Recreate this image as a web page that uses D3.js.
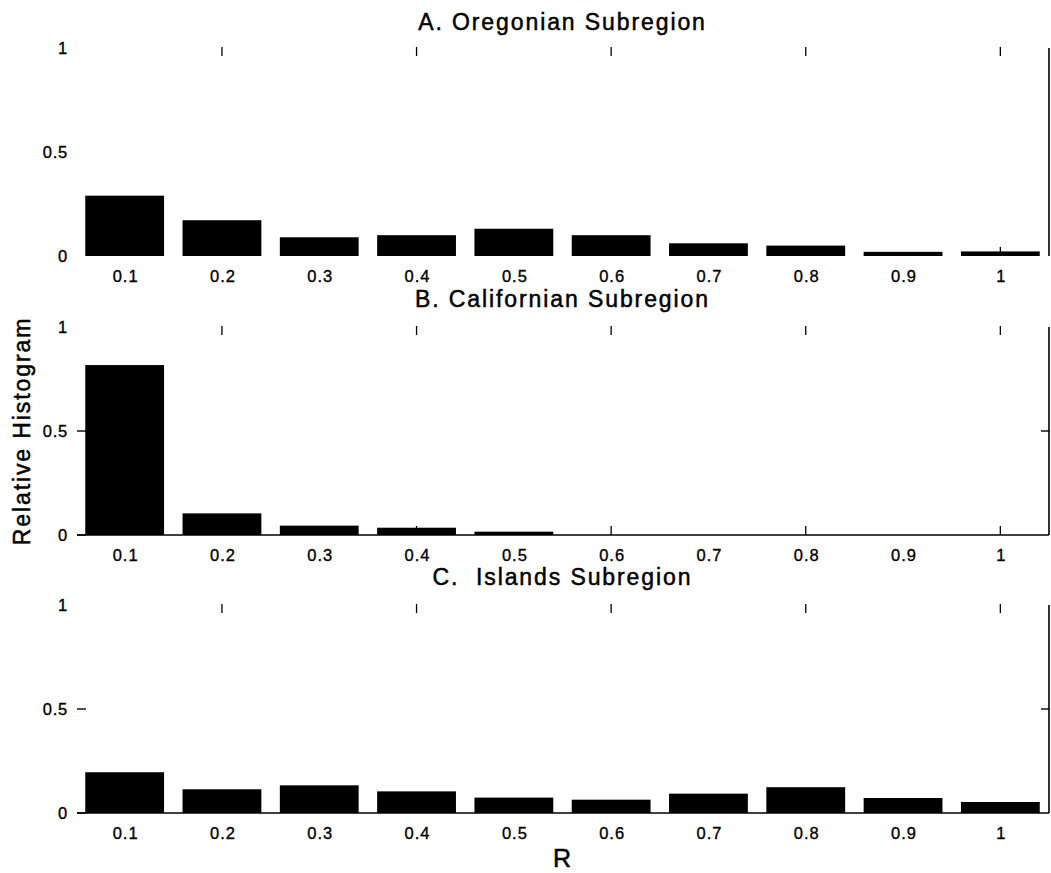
<!DOCTYPE html>
<html>
<head>
<meta charset="utf-8">
<script src="https://cdn.jsdelivr.net/npm/d3@7"></script>
<style>
  html, body { margin: 0; padding: 0; background: #fff; }
  svg { display: block; }
  text { font-family: "Liberation Sans", Arial, Helvetica, sans-serif; fill: #000; stroke: #000; }
</style>
</head>
<body>
<svg id="chart" width="1051" height="873"></svg>
<script>
// ---- data ----
const categories = [0.1, 0.2, 0.3, 0.4, 0.5, 0.6, 0.7, 0.8, 0.9, 1.0];
const categoryLabels = ["0.1", "0.2", "0.3", "0.4", "0.5", "0.6", "0.7", "0.8", "0.9", "1"];
const oregonian = [0.290, 0.172, 0.090, 0.100, 0.131, 0.100, 0.061, 0.050, 0.020, 0.022];
const californian = [0.817, 0.104, 0.045, 0.035, 0.016, 0, 0, 0, 0, 0];
const islands = [0.196, 0.114, 0.133, 0.104, 0.074, 0.064, 0.093, 0.124, 0.072, 0.053];
const panelTitles = ["A. Oregonian Subregion", "B. Californian Subregion", "C.  Islands Subregion"];
const yTickValues = [0, 0.5, 1];
const yTickLabels = ["0", "0.5", "1"];
const xMajorTicks = [0.2, 0.4, 0.6, 0.8, 1.0];
const xAxisTitle = "R";
const yAxisTitle = "Relative Histogram";

// ---- layout ----
const svg = d3.select("#chart");
const left = 76, right = 1049;
const x = d3.scaleLinear().domain([0.05, 1.05]).range([left, right]);
const barHalf = 0.0405;
const tickLen = 9;

const panels = [
  { values: oregonian, top: 48, bottom: 256, titleY: 30, baseline: false, leftTicks: [], rightMid: false },
  { values: californian, top: 327, bottom: 535, titleY: 307, baseline: true, leftTicks: [0, 0.5], rightMid: true },
  { values: islands, top: 605, bottom: 813, titleY: 585, baseline: true, leftTicks: [0, 0.5], rightMid: true }
];

panels.forEach((p, i) => {
  const y = d3.scaleLinear().domain([0, 1]).range([p.bottom, p.top]);
  const g = svg.append("g");

  // bars
  g.selectAll("rect.bar")
    .data(categories.map((c, k) => ({ c, v: p.values[k] })))
    .join("rect")
    .attr("class", "bar")
    .attr("x", d => x(d.c - barHalf))
    .attr("width", d => x(d.c + barHalf) - x(d.c - barHalf))
    .attr("y", d => y(d.v))
    .attr("height", d => y(0) - y(d.v))
    .attr("fill", "#000");

  // baseline
  if (p.baseline) {
    g.append("line")
      .attr("x1", x(0.05) + 1).attr("x2", x(1.05))
      .attr("y1", y(0)).attr("y2", y(0))
      .attr("stroke", "#000").attr("stroke-width", 1.5);
  }

  // right axis line
  g.append("line")
    .attr("x1", x(1.05)).attr("x2", x(1.05))
    .attr("y1", y(1)).attr("y2", y(0))
    .attr("stroke", "#000").attr("stroke-width", 1.6);

  if (p.rightMid) {
    g.append("line")
      .attr("x1", x(1.05) - 8).attr("x2", x(1.05))
      .attr("y1", y(0.5)).attr("y2", y(0.5))
      .attr("stroke", "#000").attr("stroke-width", 1.4);
  }

  // left ticks
  g.selectAll("line.lt")
    .data(p.leftTicks)
    .join("line")
    .attr("class", "lt")
    .attr("x1", x(0.05) + 1).attr("x2", x(0.05) + 10)
    .attr("y1", d => y(d)).attr("y2", d => y(d))
    .attr("stroke", "#000").attr("stroke-width", 1.4);

  // top ticks
  g.selectAll("line.tt")
    .data(xMajorTicks)
    .join("line")
    .attr("class", "tt")
    .attr("x1", d => x(d)).attr("x2", d => x(d))
    .attr("y1", y(1) - 1).attr("y2", y(1) - 1 + tickLen)
    .attr("stroke", "#000").attr("stroke-width", 1.3);

  // bottom ticks
  g.selectAll("line.bt")
    .data(xMajorTicks)
    .join("line")
    .attr("class", "bt")
    .attr("x1", d => x(d)).attr("x2", d => x(d))
    .attr("y1", y(0)).attr("y2", y(0) - tickLen)
    .attr("stroke", "#000").attr("stroke-width", 1.3);

  // y tick labels
  g.selectAll("text.yl")
    .data(yTickValues)
    .join("text")
    .attr("class", "yl")
    .attr("x", 68)
    .attr("y", d => y(d))
    .attr("dy", "0.36em")
    .attr("text-anchor", "end")
    .attr("font-size", 16.5)
    .attr("stroke-width", 0.35)
    .attr("letter-spacing", 0.8)
    .text((d, k) => yTickLabels[k]);

  // x tick labels
  g.selectAll("text.xl")
    .data(categories)
    .join("text")
    .attr("class", "xl")
    .attr("x", d => x(d) + 1)
    .attr("y", y(0) + 26)
    .attr("text-anchor", "middle")
    .attr("font-size", 16.5)
    .attr("stroke-width", 0.35)
    .attr("letter-spacing", 1)
    .text((d, k) => categoryLabels[k]);

  // title
  g.append("text")
    .attr("x", (left + right) / 2)
    .attr("y", p.titleY)
    .attr("text-anchor", "middle")
    .attr("font-size", 23)
    .attr("stroke-width", 0.5)
    .attr("letter-spacing", 1.9)
    .style("white-space", "pre")
    .attr("xml:space", "preserve")
    .text(panelTitles[i]);
});

// axis titles
svg.append("text")
  .attr("transform", "translate(30,431) rotate(-90)")
  .attr("text-anchor", "middle")
  .attr("font-size", 23)
  .attr("stroke-width", 0.5)
  .attr("letter-spacing", 1.9)
  .text(yAxisTitle);

svg.append("text")
  .attr("x", 562)
  .attr("y", 867)
  .attr("text-anchor", "middle")
  .attr("font-size", 25)
  .attr("stroke-width", 0.5)
  .text(xAxisTitle);
</script>
</body>
</html>
